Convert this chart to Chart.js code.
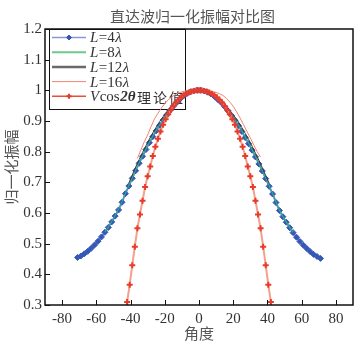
<!DOCTYPE html>
<html><head><meta charset="utf-8">
<script src="https://cdn.jsdelivr.net/npm/chart.js@4/dist/chart.umd.min.js"></script>
<style>html,body{margin:0;padding:0;background:#fff}</style>
</head><body>
<canvas id="c" width="361" height="345" style="width:361px;height:345px;display:block"></canvas>
<script>
const chartTitle = '直达波归一化振幅对比图';
const xTitle = '角度';
const yTitle = '归一化振幅';
const xTicks = [-80,-60,-40,-20,0,20,40,60,80];
const yTicks = [0.3,0.4,0.5,0.6,0.7,0.8,0.9,1.0,1.1,1.2];

const angles4 = [-71,-69,-67,-65,-63,-61,-59,-57,-55,-53,-51,-49,-47,-45,-43,-41,-39,-37,-35,-33,-31,-29,-27,-25,-23,-21,-19,-17,-15,-13,-11,-9,-7,-5,-3,-1,
  1,3,5,7,9,11,13,15,17,19,21,23,25,27,29,31,33,35,37,39,41,43,45,47,49,51,53,55,57,59,61,63,65,67,69,71];
const values4 = [0.455,0.460,0.467,0.475,0.485,0.496,0.508,0.522,0.537,0.553,0.571,0.590,0.610,0.635,0.663,0.688,0.713,0.738,0.762,0.785,0.807,0.829,0.849,0.868,0.886,0.903,0.919,0.934,0.948,0.960,0.972,0.982,0.990,0.995,0.998,1.000,
  1.000,0.998,0.994,0.988,0.980,0.970,0.960,0.947,0.933,0.918,0.902,0.885,0.866,0.846,0.826,0.805,0.783,0.760,0.737,0.712,0.687,0.662,0.634,0.608,0.588,0.570,0.552,0.536,0.521,0.507,0.495,0.484,0.474,0.465,0.458,0.452];

const angles8 = [-55,-53,-51,-49,-47,-45,-43,-41,-39,-37,-35,-33,-31,-29,-27,-25,-23,-21,-19,-17,-15,-13,-11,-9,-7,-5,-3,-1,
  1,3,5,7,9,11,13,15,17,19,21,23,25,27,29,31,33,35,37,39,41,43,45,47,49,51,53,55];
const values8 = [0.538,0.554,0.572,0.592,0.613,0.637,0.664,0.690,0.715,0.741,0.764,0.787,0.809,0.831,0.851,0.870,0.888,0.905,0.921,0.936,0.949,0.961,0.973,0.983,0.990,0.996,0.999,1.000,
  1.000,0.998,0.995,0.989,0.981,0.971,0.961,0.949,0.935,0.920,0.904,0.887,0.868,0.848,0.828,0.807,0.785,0.762,0.739,0.714,0.689,0.664,0.636,0.610,0.589,0.571,0.553,0.537];

const angles12 = [-41,-39,-37,-35,-33,-31,-29,-27,-25,-23,-21,-19,-17,-15,-13,-11,-9,-7,-5,-3,-1,
  1,3,5,7,9,11,13,15,17,19,21,23,25,27,29,31,33,35,37,39,41];
const values12 = [0.698,0.724,0.750,0.774,0.797,0.819,0.841,0.861,0.880,0.898,0.914,0.929,0.943,0.955,0.966,0.976,0.984,0.991,0.996,0.999,1.000,
  1.000,0.999,0.996,0.991,0.984,0.975,0.965,0.954,0.942,0.928,0.913,0.897,0.879,0.860,0.840,0.818,0.795,0.772,0.748,0.722,0.697];

const angles16 = [-36,-34,-32,-30,-28,-26,-24,-22,-20,-18,-16,-14,-12,-10,-8,-6,-4,-2,0,2,4,6,8,10,12,14,16,18,20,22,24,26,28,30,32,34,36];
const values16 = [0.778,0.805,0.832,0.855,0.882,0.907,0.925,0.942,0.957,0.969,0.978,0.986,0.991,0.995,0.998,1.000,1.000,1.000,1.000,1.000,0.999,0.998,0.996,0.993,0.989,0.983,0.974,0.962,0.948,0.930,0.910,0.888,0.866,0.845,0.822,0.800,0.782];

const anglesTh = [-43.5,-42,-40.5,-39,-37.5,-36,-34.5,-33,-31.5,-30,-28.5,-27,-25.5,-24,-22.5,-21,-19.5,-18,-16.5,-15,-13.5,-12,-10.5,-9,-7.5,-6,-4.5,-3,-1.5,0,
  1.5,3,4.5,6,7.5,9,10.5,12,13.5,15,16.5,18,19.5,21,22.5,24,25.5,27,28.5,30,31.5,33,34.5,36,37.5,39,40.5,42,43.5];
const valuesTh = [0.20,0.31,0.366,0.43,0.49,0.55,0.595,0.64,0.685,0.72,0.752,0.786,0.816,0.842,0.866,0.888,0.906,0.922,0.936,0.949,0.96,0.969,0.977,0.984,0.989,0.993,0.996,0.998,1.0,1.0,
  1.0,0.998,0.996,0.993,0.989,0.984,0.977,0.969,0.96,0.949,0.936,0.922,0.906,0.888,0.866,0.842,0.816,0.786,0.752,0.72,0.685,0.64,0.595,0.55,0.49,0.43,0.366,0.31,0.20];

const legendParts = [
  [['L','i'],['=4','n'],['λ','i']],
  [['L','i'],['=8','n'],['λ','i']],
  [['L','i'],['=12','n'],['λ','i']],
  [['L','i'],['=16','n'],['λ','i']],
  [['V','i'],['cos','n'],['2θ','bi'],['理论值','c']]
];

function pts(a, v){ return a.map((x,i)=>({x:x, y:v[i]})); }

const SERIF = '"Liberation Serif", "DejaVu Serif", serif';
const CJK = '"Noto Sans CJK SC", sans-serif';

const frameAndTicks = {
  id:'frameAndTicks',
  afterDraw(chart){
    const ctx = chart.ctx, a = chart.chartArea;
    const xs = chart.scales.x, ys = chart.scales.y;
    ctx.save();
    ctx.strokeStyle = '#111';
    ctx.lineWidth = 1;
    ctx.beginPath();
    xTicks.forEach(v=>{ const px = Math.round(xs.getPixelForValue(v))+0.5; ctx.moveTo(px,a.bottom); ctx.lineTo(px,a.bottom-5); });
    yTicks.forEach(v=>{ const py = Math.round(ys.getPixelForValue(v))+0.5; ctx.moveTo(a.left,py); ctx.lineTo(a.left+5,py); });
    ctx.stroke();
    ctx.lineWidth = 1.5;
    ctx.strokeRect(a.left, a.top, a.right-a.left, a.bottom-a.top);
    ctx.restore();
    ctx.save();
    ctx.fillStyle = '#555';
    ctx.font = '15px ' + CJK;
    ctx.textAlign = 'center';
    ctx.textBaseline = 'middle';
    ctx.fillText(chartTitle, 192.5, 16);
    ctx.restore();
  }
};

const legendBox = {
  id:'legendBox',
  beforeDatasetsDraw(chart){
    const ctx = chart.ctx, a = chart.chartArea;
    const bx = a.left+4, by = a.top, bw = 136, bh = 80;
    ctx.save();
    ctx.fillStyle = '#fff';
    ctx.fillRect(bx, by, bw, bh);
    ctx.strokeStyle = '#111';
    ctx.lineWidth = 1;
    ctx.strokeRect(bx+0.5, by+0.5, bw, bh);
    [0,1,2,3,4].forEach((i)=>{
      const ds = chart.data.datasets[i];
      const y = by + 8.5 + i*14.7;
      ctx.strokeStyle = ds.legendColor || ds.borderColor;
      ctx.lineWidth = ds.legendWidth || ds.borderWidth;
      ctx.beginPath(); ctx.moveTo(bx+3, y); ctx.lineTo(bx+37, y); ctx.stroke();
      if (ds.pointRadius > 0) {
        ctx.fillStyle = ds.pointBackgroundColor;
        ctx.strokeStyle = ds.pointBorderColor;
        ctx.lineWidth = ds.pointBorderWidth || 1;
        Chart.helpers.drawPoint(ctx, {pointStyle: ds.pointStyle, radius: 2.5, rotation:0, borderWidth: ds.pointBorderWidth||1}, bx+20, y);
      }
      let x = bx + 41;
      ctx.fillStyle = '#333';
      ctx.textBaseline = 'middle';
      ctx.textAlign = 'left';
      legendParts[i].forEach(([t,s])=>{
        if (s==='i') ctx.font = 'italic 15px ' + SERIF;
        else if (s==='bi') ctx.font = 'italic bold 15px ' + SERIF;
        else if (s==='c') ctx.font = '14px ' + CJK;
        else ctx.font = '15px ' + SERIF;
        if (s==='c') {
          for (const ch of t) { ctx.fillText(ch, x+1, y+1); x += ctx.measureText(ch).width + 2; }
        } else {
          ctx.fillText(t, x, y+1);
          x += ctx.measureText(t).width + 0.5;
        }
      });
    });
    ctx.restore();
  }
};

new Chart(document.getElementById('c'), {
  type:'line',
  data:{
    datasets:[
      {label:'L=4λ', data:pts(angles4, values4), borderColor:'#7f8cd0', legendColor:'#8c96d4', borderWidth:2, legendWidth:1.5,
       pointStyle:'rectRot', pointRadius:3, pointBackgroundColor:'#3558b6', pointBorderColor:'#3558b6', pointBorderWidth:1, order:5},
      {label:'L=8λ', data:pts(angles8, values8), borderColor:'#2fae86', legendColor:'#6cc98a', borderWidth:1.1, legendWidth:2, pointRadius:0, order:4},
      {label:'L=12λ', data:pts(angles12, values12), borderColor:'#3a3a3a', legendColor:'#6a6a6a', borderWidth:1, legendWidth:2.5, pointRadius:0, order:3},
      {label:'L=16λ', data:pts(angles16, values16), borderColor:'#f08572', borderWidth:1, pointRadius:0, order:2},
      {label:'Vcos2θ理论值', data:pts(anglesTh, valuesTh), borderColor:'#f4a08e', legendColor:'#e8503a', borderWidth:2, legendWidth:1.5,
       pointStyle:'cross', pointRadius:3, pointBackgroundColor:'#e83c2a', pointBorderColor:'#e83c2a', pointBorderWidth:2, order:1}
    ]
  },
  options:{
    responsive:false, animation:false, devicePixelRatio:1,
    layout:{padding:{top:29, right:8, left:0, bottom:0}},
    plugins:{legend:{display:false}, tooltip:{enabled:false}, title:{display:false}},
    elements:{line:{tension:0}},
    scales:{
      x:{type:'linear', min:-90, max:90,
        afterBuildTicks(s){ s.ticks = xTicks.map(v=>({value:v})); },
        afterFit(s){ s.height = 40; },
        grid:{display:false, drawTicks:false},
        border:{display:false},
        ticks:{padding:5, color:'#333', font:{family:SERIF, size:15}, callback:v=>String(v)},
        title:{display:true, text:xTitle, color:'#555', font:{family:CJK, size:15}, padding:{top:0,bottom:3}}
      },
      y:{type:'linear', min:0.3, max:1.2,
        afterBuildTicks(s){ s.ticks = yTicks.map(v=>({value:v})); },
        afterFit(s){ s.width = 45; },
        grid:{display:false, drawTicks:false},
        border:{display:false},
        ticks:{padding:3, color:'#333', font:{family:SERIF, size:15}, callback:v=>String(Number(v.toFixed(1)))},
        title:{display:true, text:yTitle, color:'#555', font:{family:CJK, size:15}, padding:{top:2,bottom:0}}
      }
    }
  },
  plugins:[legendBox, frameAndTicks]
});
</script>
</body></html>
